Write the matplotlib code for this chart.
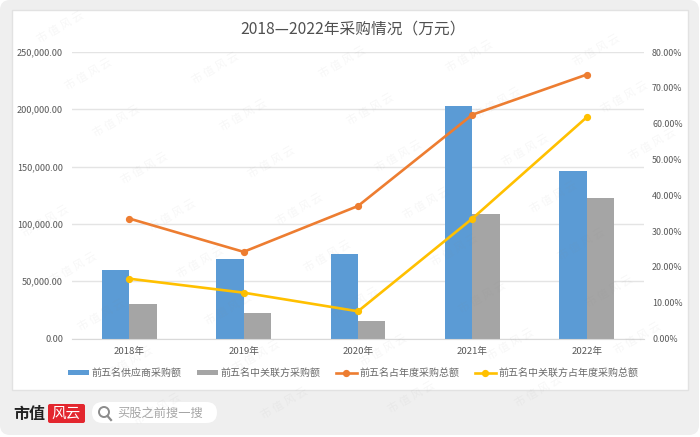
import numpy as np
import matplotlib
matplotlib.use('Agg')
import matplotlib.pyplot as plt
from matplotlib.patches import FancyBboxPatch, Rectangle, Circle
from matplotlib.ticker import FuncFormatter

plt.rcParams['font.family'] = ['Noto Sans CJK SC', 'DejaVu Sans']

years = ['2018年', '2019年', '2020年', '2021年', '2022年']
top5_amount = [60000, 69000, 74000, 202500, 146500]
related_amount = [30000, 22000, 15500, 108500, 123000]
top5_share = [33.5, 24.2, 37.0, 62.5, 73.7]
related_share = [16.7, 12.8, 7.6, 33.5, 61.8]

W = 700.0
H = 437.0
TXT = '#595959'

fig = plt.figure(figsize=(7.0, 4.37), dpi=100, facecolor='white')

# page layer in pixel coords, y downwards
bg = fig.add_axes([0, 0, 1, 1], zorder=0)
bg.set_xlim(0, W)
bg.set_ylim(H, 0)
bg.axis('off')
bg.add_patch(FancyBboxPatch((0, 0), W-1, H-2, boxstyle='round,pad=0,rounding_size=10', fc='#efefef', ec='none'))
bg.add_patch(Rectangle((12, 10), 676, 380, fc='white', ec='#e2e2e2', lw=1))

# logo and search box
bg.text(13, 413.5, '市值', fontsize=11.5, fontweight='bold', color='#222222', va='center', ha='left')
bg.add_patch(FancyBboxPatch((48, 404), 37, 19, boxstyle='round,pad=0,rounding_size=2', fc='#e3262e', ec='none'))
bg.text(66.5, 413.5, '风云', fontsize=10.5, style='italic', color='white', va='center', ha='center')
bg.add_patch(FancyBboxPatch((92, 402), 125, 21, boxstyle='round,pad=0,rounding_size=10.5', fc='white', ec='none'))
bg.add_patch(Circle((104, 412), 5, fc='none', ec='#8c8c8c', lw=1.4))
bg.plot([107.5, 111], [416, 420], color='#8c8c8c', lw=1.6)
bg.text(117, 413, '买股之前搜一搜', fontsize=8.8, color='#a6a6a6', va='center', ha='left')

# chart
ax = fig.add_axes([72/W, 1-338.5/H, 572/W, 286.5/H], zorder=1)
ax.patch.set_alpha(0)
x = np.arange(len(years))
bw = 0.24
ax.bar(x-bw/2, top5_amount, bw, color='#5b9bd5', label='前五名供应商采购额', zorder=2)
ax.bar(x+bw/2, related_amount, bw, color='#a5a5a5', label='前五名中关联方采购额', zorder=2)
ax.set_xlim(-0.5, 4.5)
ax.set_ylim(0, 250000)
ax.set_yticks(np.arange(0, 250001, 50000))
ax.yaxis.set_major_formatter(FuncFormatter(lambda v, p: '{:,.2f}'.format(v)))
ax.set_xticks(x)
ax.set_xticklabels(years)
ax.grid(axis='y', color='#e4e4e4', lw=1, zorder=0)
ax.set_axisbelow(True)
ax.tick_params(axis='x', length=0, labelsize=6.9, labelcolor=TXT, pad=6)
ax.tick_params(axis='y', length=0, labelsize=6.6, labelcolor=TXT, pad=6.5)
for s in ['top', 'left', 'right']:
    ax.spines[s].set_visible(False)
ax.spines['bottom'].set_color('#d9d9d9')

ax2 = ax.twinx()
ax2.plot(x, top5_share, color='#ed7d31', lw=1.9, marker='o', ms=4.2, label='前五名占年度采购总额', zorder=3)
ax2.plot(x, related_share, color='#ffc000', lw=1.9, marker='o', ms=4.2, label='前五名中关联方占年度采购总额', zorder=3)
ax2.set_ylim(0, 80)
ax2.set_yticks(np.arange(0, 81, 10))
ax2.yaxis.set_major_formatter(FuncFormatter(lambda v, p: '{:.2f}%'.format(v)))
ax2.tick_params(axis='y', length=0, labelsize=6.4, labelcolor=TXT, pad=5.8)
for s in ['top', 'left', 'right', 'bottom']:
    ax2.spines[s].set_visible(False)

h1, l1 = ax.get_legend_handles_labels()
h2, l2 = ax2.get_legend_handles_labels()
fig.legend(h1+h2, l1+l2, ncol=4, loc='center', bbox_to_anchor=(353/W, 1-373/H), frameon=False,
           fontsize=7.2, labelcolor='#6a6a6a', handlelength=2.1, handletextpad=0.25, columnspacing=1.55, handleheight=0.5)

fig.text(353/W, 1-29/H, '2018—2022年采购情况（万元）', fontsize=11.3, color='#505050', ha='center', va='center')

# watermark, only where the whole mark stays on the page
wm = fig.add_axes([0, 0, 1, 1], zorder=2)
wm.set_xlim(0, W)
wm.set_ylim(H, 0)
wm.axis('off')
for i in range(-2, 9):
    for j in range(-1, 10):
        px = 60+i*127+j*28
        py = 27-i*6+j*47
        if px < 40 or px > W-40 or py < 24 or py > H-24:
            continue
        wm.text(px, py, '市 值 风 云', fontsize=8, color='#8a8a8a', alpha=0.07,
                rotation=30, ha='center', va='center')

fig.savefig('out.png', dpi=100)
